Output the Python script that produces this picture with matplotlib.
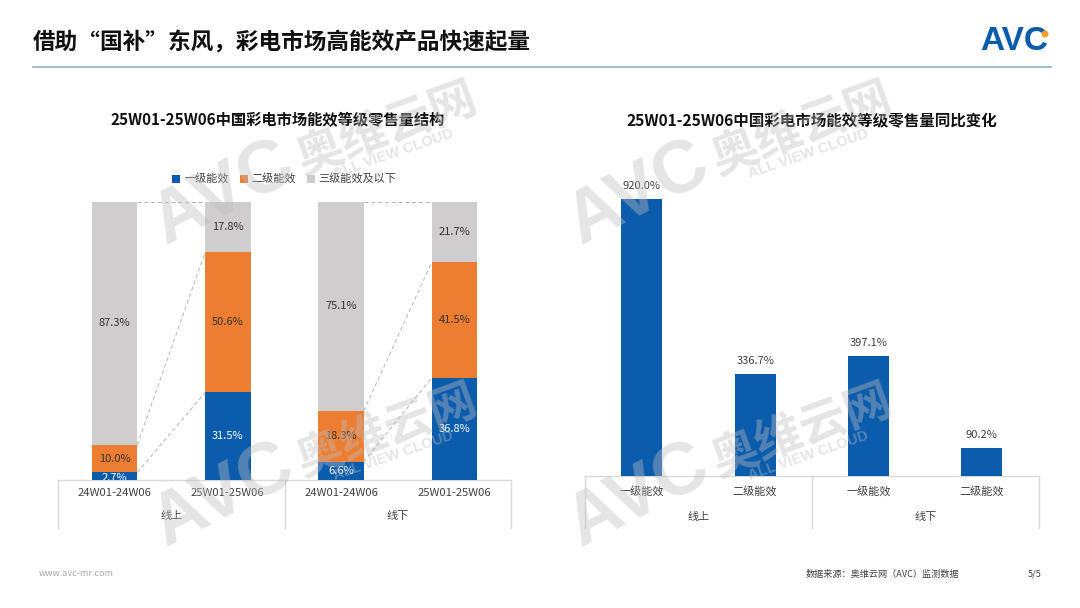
import matplotlib
matplotlib.use('Agg')
import matplotlib.pyplot as plt
from matplotlib.patches import Circle

plt.rcParams['font.family'] = ['Noto Sans CJK SC', 'DejaVu Sans']

BLUE = '#0B5CAD'
ORANGE = '#ED7D31'
GRAY = '#CFCDCE'
LINE = '#DADADA'
TEXT = '#404040'

W, H = 1080, 608

# left chart
periods = ['24W01-24W06', '25W01-25W06', '24W01-24W06', '25W01-25W06']
channels = ['线上', '线下']
level1 = [2.7, 31.5, 6.6, 36.8]
level2 = [10.0, 50.6, 18.3, 41.5]
level3 = [87.3, 17.8, 75.1, 21.7]
legend_names = ['一级能效', '二级能效', '三级能效及以下']

# right chart
yoy_cats = ['一级能效', '二级能效', '一级能效', '二级能效']
yoy_vals = [920.0, 336.7, 397.1, 90.2]


def px_axes(fig, x0, y_top, x1, y_bottom):
    return fig.add_axes([x0 / W, 1 - y_bottom / H, (x1 - x0) / W, (y_bottom - y_top) / H])


def group_frame(bg, x0, x1, base, bottom):
    xm = (x0 + x1) / 2
    bg.plot([x0, x1], [base, base], color=LINE, lw=1)
    for x in [x0, xm, x1]:
        bg.plot([x, x], [base, bottom], color=LINE, lw=1)


def watermark(bg, x, y):
    c = '#BEBEBE'
    a = 0.4
    # (x, y) is the lower left corner of the big AVC
    bg.text(x, y, 'AVC', fontsize=53, fontweight='bold', color=c, alpha=a, rotation=27,
            rotation_mode='anchor', ha='left', va='baseline', family='Liberation Sans', zorder=10)
    bg.text(x + 138, y - 70, '奥维云网', fontsize=34, fontweight='bold', color=c, alpha=a, rotation=20,
            rotation_mode='anchor', ha='left', va='baseline', zorder=10)
    bg.text(x + 170, y - 67, 'ALL VIEW CLOUD', fontsize=10.5, fontweight='bold', color=c, alpha=a, rotation=19,
            rotation_mode='anchor', ha='left', va='baseline', family='Liberation Sans', zorder=10)


fig = plt.figure(figsize=(W / 100, H / 100), dpi=100, facecolor='white')

# background layer in pixel coordinates, for header, footer and frames
bg = fig.add_axes([0, 0, 1, 1])
bg.set_xlim(0, W)
bg.set_ylim(H, 0)
bg.axis('off')

bg.text(33, 43, '借助“国补”东风，彩电市场高能效产品快速起量', fontsize=16.3, fontweight='bold',
        color='#111111', ha='left', va='center')
bg.plot([33, 1051], [67, 67], color='#8FB3C6', lw=1.2)

bg.text(1014, 42, 'AVC', fontsize=24, fontweight='bold', color=BLUE, ha='center', va='center',
        family='Liberation Sans')
bg.add_patch(Circle((1045, 34), 2.8, color='#F0A030', zorder=5))

bg.text(278, 120, '25W01-25W06中国彩电市场能效等级零售量结构', fontsize=11, fontweight='bold',
        color='#111111', ha='center', va='center')
bg.text(812, 121, '25W01-25W06中国彩电市场能效等级零售量同比变化', fontsize=11.2, fontweight='bold',
        color='#111111', ha='center', va='center')

bg.text(39, 574, 'www.avc-mr.com', fontsize=6.5, color='#A6A6A6', ha='left', va='center')
bg.text(806, 574, '数据来源：奥维云网（AVC）监测数据', fontsize=6.6, color='#404040', ha='left', va='center')
bg.text(1028, 574, '5/5', fontsize=6.6, color='#404040', ha='left', va='center')

group_frame(bg, 58, 511, 480, 528)
group_frame(bg, 585, 1038.6, 475.5, 528)

# left stacked bars
ax = px_axes(fig, 58, 202, 511, 480)
ax.patch.set_alpha(0)
x = range(4)
bar_w = 0.4
bottom2 = level1
bottom3 = [a + b for a, b in zip(level1, level2)]
ax.bar(x, level1, bar_w, color=BLUE, label=legend_names[0])
ax.bar(x, level2, bar_w, bottom=bottom2, color=ORANGE, label=legend_names[1])
ax.bar(x, level3, bar_w, bottom=bottom3, color=GRAY, label=legend_names[2])
ax.set_xlim(-0.5, 3.5)
ax.set_ylim(0, 100)
ax.axis('off')

for i in x:
    ax.text(i, level1[i] / 2 - (0.7 if level1[i] < 3 else 0), f'{level1[i]:.1f}%', color='white', fontsize=8,
            ha='center', va='center', clip_on=True)
    ax.text(i, bottom2[i] + level2[i] / 2, f'{level2[i]:.1f}%', color='#333333', fontsize=8,
            ha='center', va='center')
    ax.text(i, bottom3[i] + level3[i] / 2, f'{level3[i]:.1f}%', color='#333333', fontsize=8,
            ha='center', va='center')

# dashed connectors between the two periods of a channel
for a, b in [(0, 1), (2, 3)]:
    for ya, yb in [(level1[a], level1[b]), (bottom3[a], bottom3[b]), (100, 100)]:
        ax.plot([a + bar_w / 2, b - bar_w / 2], [ya, yb], color='#B5B5B5', lw=0.7, ls=(0, (4, 3)), clip_on=False)

leg = ax.legend(loc='lower center', bbox_to_anchor=(0.5, 1.042), ncol=3, frameon=False, fontsize=8,
                handlelength=0.7, handleheight=0.7, handletextpad=0.35, columnspacing=1.0, borderpad=0,
                labelcolor=TEXT)

for i, label in enumerate(periods):
    bg.text(114.6 + 113.25 * i, 493, label, fontsize=8.1, color=TEXT, ha='center', va='center')
for i, label in enumerate(channels):
    bg.text(171.2 + 226.5 * i, 516, label, fontsize=8, color=TEXT, ha='center', va='center')

# right bars
ax2 = px_axes(fig, 585, 199, 1038.6, 475.5)
ax2.patch.set_alpha(0)
ax2.bar(range(4), yoy_vals, 0.36, color=BLUE)
ax2.set_xlim(-0.5, 3.5)
ax2.set_ylim(0, 920)
ax2.axis('off')
for i, v in enumerate(yoy_vals):
    ax2.annotate(f'{v:.1f}%', (i, v), xytext=(0, 6), textcoords='offset points', fontsize=8, color=TEXT,
                 ha='center', va='bottom', annotation_clip=False)

for i, label in enumerate(yoy_cats):
    bg.text(641.7 + 113.4 * i, 492, label, fontsize=8, color=TEXT, ha='center', va='center')
for i, label in enumerate(channels):
    bg.text(698.4 + 226.8 * i, 517, label, fontsize=8, color=TEXT, ha='center', va='center')

# watermarks sit above everything
wm = fig.add_axes([0, 0, 1, 1])
wm.set_xlim(0, W)
wm.set_ylim(H, 0)
wm.axis('off')
for wx, wy in [(165, 245), (580, 245), (165, 547), (580, 547)]:
    watermark(wm, wx, wy)

fig.savefig('out.png', dpi=100)
